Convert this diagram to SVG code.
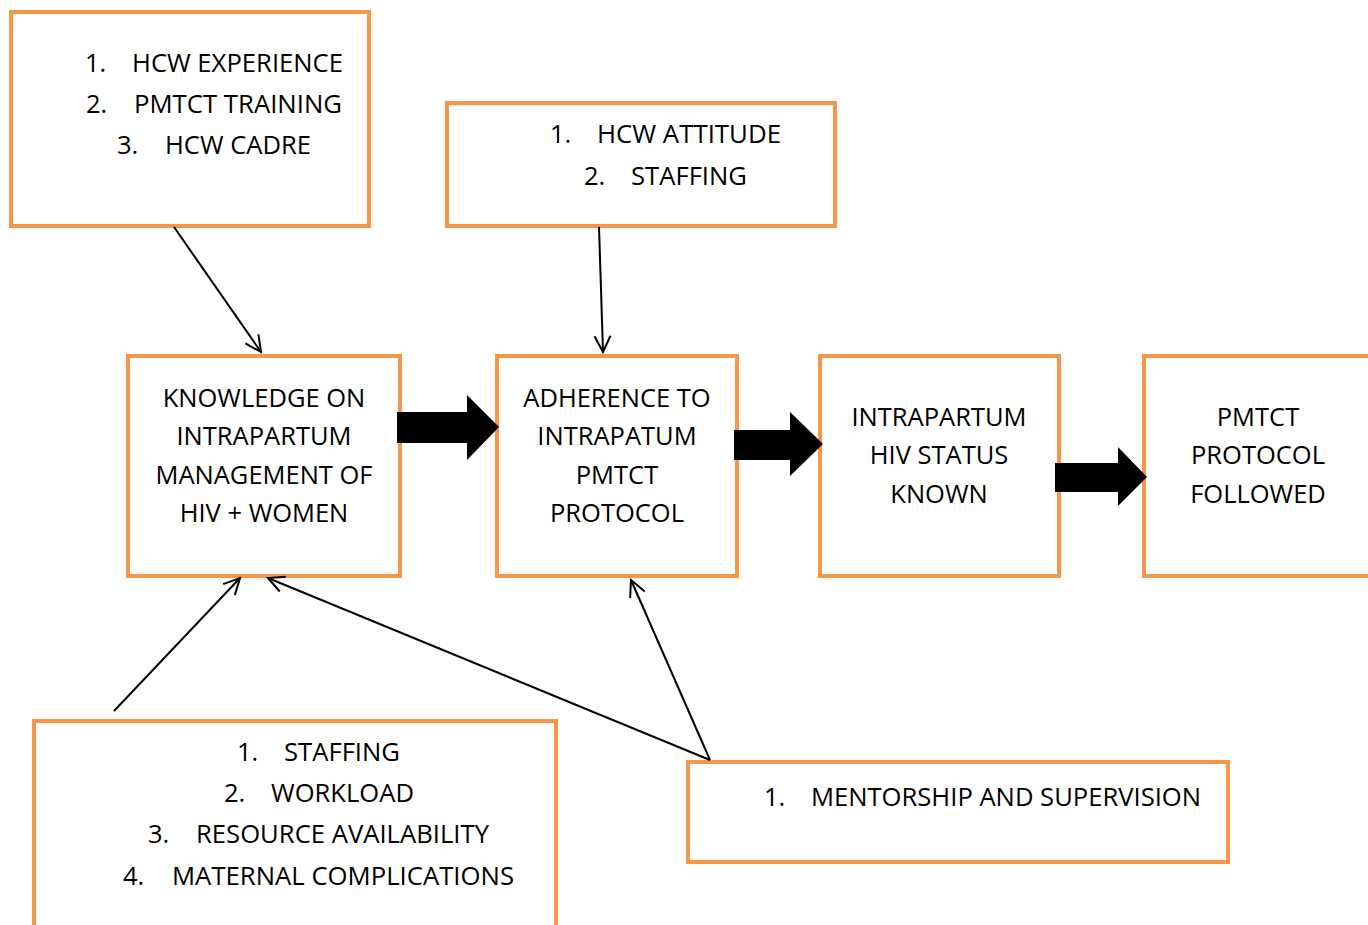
<svg xmlns="http://www.w3.org/2000/svg" width="1368" height="925" viewBox="0 0 1368 925">
<style>
.box{fill:#fff;stroke:#F79646;stroke-width:4}
text{font-family:"Open Sans","Liberation Sans",sans-serif;font-size:25.5px;fill:#000}
.c{text-anchor:middle}
.thin{stroke:#000;stroke-width:2;fill:none}
.fat{fill:#000}
</style>
<defs>
<marker id="open" viewBox="0 0 20 20" refX="18" refY="10" markerWidth="20" markerHeight="20" markerUnits="userSpaceOnUse" orient="auto">
<path d="M2,2 L18,10 L2,18" fill="none" stroke="#000" stroke-width="2"/>
</marker>
</defs>
<rect width="1368" height="925" fill="#fff"/>
<g id="nodeA">
<rect class="box" x="11" y="12" width="358" height="214"/>
<text x="85" y="72">1.</text><text x="132" y="72" textLength="211" lengthAdjust="spacingAndGlyphs">HCW EXPERIENCE</text>
<text x="86" y="113">2.</text><text x="134" y="113" textLength="208" lengthAdjust="spacingAndGlyphs">PMTCT TRAINING</text>
<text x="117" y="154">3.</text><text x="165" y="154" textLength="146" lengthAdjust="spacingAndGlyphs">HCW CADRE</text>
</g>
<g id="nodeB">
<rect class="box" x="447" y="103" width="388" height="123"/>
<text x="550" y="143">1.</text><text x="597" y="143" textLength="184" lengthAdjust="spacingAndGlyphs">HCW ATTITUDE</text>
<text x="584" y="185">2.</text><text x="631" y="185" textLength="116" lengthAdjust="spacingAndGlyphs">STAFFING</text>
</g>
<g id="nodeC">
<rect class="box" x="128" y="356" width="272" height="220"/>
<text class="c" x="264" y="407">KNOWLEDGE ON</text>
<text class="c" x="264" y="445">INTRAPARTUM</text>
<text class="c" x="264" y="484">MANAGEMENT OF</text>
<text class="c" x="264" y="522">HIV + WOMEN</text>
</g>
<g id="nodeD">
<rect class="box" x="497" y="356" width="240" height="220"/>
<text class="c" x="617" y="407">ADHERENCE TO</text>
<text class="c" x="617" y="445">INTRAPATUM</text>
<text class="c" x="617" y="484">PMTCT</text>
<text class="c" x="617" y="522">PROTOCOL</text>
</g>
<g id="nodeE">
<rect class="box" x="820" y="356" width="239" height="220"/>
<text class="c" x="939" y="426">INTRAPARTUM</text>
<text class="c" x="939" y="464">HIV STATUS</text>
<text class="c" x="939" y="503">KNOWN</text>
</g>
<g id="nodeF">
<rect class="box" x="1144" y="356" width="230" height="220"/>
<text class="c" x="1258" y="426">PMTCT</text>
<text class="c" x="1258" y="464">PROTOCOL</text>
<text class="c" x="1258" y="503">FOLLOWED</text>
</g>
<g id="nodeG">
<rect class="box" x="34" y="721" width="522" height="214"/>
<text x="237" y="761">1.</text><text x="284" y="761" textLength="116" lengthAdjust="spacingAndGlyphs">STAFFING</text>
<text x="224" y="802">2.</text><text x="271" y="802" textLength="143" lengthAdjust="spacingAndGlyphs">WORKLOAD</text>
<text x="148" y="843">3.</text><text x="196" y="843" textLength="293" lengthAdjust="spacingAndGlyphs">RESOURCE AVAILABILITY</text>
<text x="123" y="885">4.</text><text x="172" y="885" textLength="342" lengthAdjust="spacingAndGlyphs">MATERNAL COMPLICATIONS</text>
</g>
<g id="nodeH">
<rect class="box" x="688" y="762" width="540" height="100"/>
<text x="764" y="806">1.</text><text x="811" y="806" textLength="390" lengthAdjust="spacingAndGlyphs">MENTORSHIP AND SUPERVISION</text>
</g>
<g id="connectors">
<polygon class="fat" points="397,412 467,412 467,395 499,427 467,460 467,443 397,443"/>
<polygon class="fat" points="734,430 790,430 790,412 823,444 790,476 790,460 734,460"/>
<polygon class="fat" points="1055,463 1118,463 1118,447 1147,477 1118,506 1118,492 1055,492"/>
<line class="thin" x1="174" y1="227" x2="261" y2="352" marker-end="url(#open)"/>
<line class="thin" x1="599" y1="227" x2="603" y2="352" marker-end="url(#open)"/>
<line class="thin" x1="114" y1="711" x2="240" y2="578" marker-end="url(#open)"/>
<line class="thin" x1="710" y1="760" x2="268" y2="578" marker-end="url(#open)"/>
<line class="thin" x1="710" y1="760" x2="631" y2="580" marker-end="url(#open)"/>
</g>
</svg>
